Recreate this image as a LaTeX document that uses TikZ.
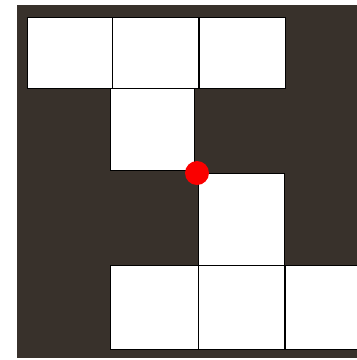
\documentclass[tikz,border=0pt]{standalone}
\usepackage{tikz}
\usetikzlibrary{positioning}
\usepackage{xcolor}
\definecolor{boarddark}{RGB}{56,49,43}
\definecolor{dotred}{RGB}{250,0,0}

\begin{document}
\begin{tikzpicture}[x=1pt, y=-1pt]
        \useasboundingbox[fill=white] (0,0) rectangle (357,360);
        \fill[boarddark] (17,5) rectangle (362,358);

        \tikzset{cell/.style={draw=black, fill=white, line width=0.9pt, rectangle, inner sep=0pt, minimum width=86pt}}

        % top row
        \node[cell, minimum height=71pt, minimum width=85pt] (top1) at (69.5,52.5) {};
        \node[cell, minimum height=71pt, right=0pt of top1] (top2) {};
        \node[cell, minimum height=71pt, right=0pt of top2] (top3) {};

        % middle squares
        \node[cell, minimum height=82pt, minimum width=84pt] (mid1) at (152,129) {};
        \node[cell, minimum height=92pt] (mid2) at (241,219) {};

        % bottom row
        \node[cell, minimum height=84pt, minimum width=88pt] (bot1) at (154,307) {};
        \node[cell, minimum height=84pt, right=0pt of bot1] (bot2) {};
        \node[cell, minimum height=84pt, right=0pt of bot2] (bot3) {};

        \node[circle, fill=dotred, minimum size=24pt, inner sep=0pt] (dot) at (197,173) {};
    \end{tikzpicture}
\end{document}
